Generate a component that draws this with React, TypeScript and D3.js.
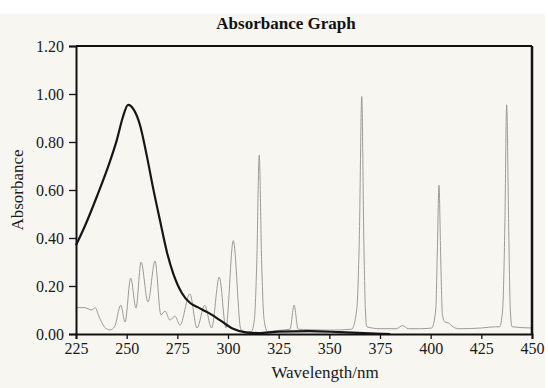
import React, { useEffect, useRef } from 'react';
import * as d3 from 'd3';

// thick black trace (wavelength nm / absorbance)
const blackWl = [225, 229.4, 235.4, 241.8, 245.2, 248, 250.7, 253.5, 256.6, 260, 263, 266.4, 269.9, 272.9, 277.3, 281.2, 285, 290, 296, 302.5, 309.4, 315, 325, 340, 355, 370, 380];
const blackAbs = [0.37, 0.45, 0.575, 0.72, 0.81, 0.9, 0.955, 0.935, 0.87, 0.74, 0.61, 0.475, 0.34, 0.254, 0.17, 0.13, 0.112, 0.09, 0.058, 0.022, 0.006, 0.004, 0.01, 0.012, 0.008, 0.003, 0];

// thin grey line spectrum
const greyWl = [225, 229, 232.9, 234.4, 236.5, 239, 241.8, 244, 247.1, 249.2, 252, 254.6, 257.1, 260.5, 264, 266.9, 268.9, 271.4, 273.8, 276.3, 281.2, 284.7, 288.5, 291.9, 295.7, 299, 302.6, 306.4, 309, 311.5, 313, 314.2, 315.4, 316.6, 317.8, 319.5, 325, 330.6, 332.6, 334.6, 340, 350, 361, 363.5, 364.8, 366, 367, 367.8, 368.5, 375, 383, 386.2, 389, 395, 400.5, 402.5, 403.3, 404.1, 405, 405.8, 407, 409, 411, 414, 425, 432, 434, 435.5, 436.6, 437.5, 438.5, 439.3, 440.2, 450];
const greyAbs = [0.11, 0.11, 0.1, 0.11, 0.07, 0.03, 0.017, 0.03, 0.12, 0.05, 0.233, 0.108, 0.3, 0.133, 0.304, 0.08, 0.095, 0.058, 0.075, 0.037, 0.167, 0.025, 0.12, 0.025, 0.237, 0.025, 0.389, 0.017, 0.01, 0.01, 0.06, 0.3, 0.745, 0.3, 0.06, 0.01, 0.015, 0.02, 0.12, 0.02, 0.018, 0.016, 0.02, 0.1, 0.4, 0.99, 0.4, 0.1, 0.03, 0.022, 0.022, 0.035, 0.022, 0.022, 0.025, 0.1, 0.35, 0.62, 0.3, 0.08, 0.05, 0.045, 0.03, 0.022, 0.025, 0.03, 0.03, 0.1, 0.45, 0.955, 0.45, 0.1, 0.03, 0.025];

const xTicks = [225, 250, 275, 300, 325, 350, 375, 400, 425, 450];
const yTicks = [0, 0.2, 0.4, 0.6, 0.8, 1.0, 1.2];

const App: React.FC = () => {
    const svgRef = useRef<SVGSVGElement | null>(null);

    useEffect(() => {
        const svg = d3.select(svgRef.current);
        const width = 548;
        const height = 388;
        const margin = { top: 46, right: 16, bottom: 54, left: 76 };
        const font = '"Liberation Serif", "Times New Roman", serif';

        svg.selectAll('*').remove();

        // scanned page background
        svg.append('rect').attr('width', width).attr('height', height).attr('fill', '#ffffff');
        svg.append('rect').attr('x', 0).attr('y', 14).attr('width', 545).attr('height', height - 14).attr('fill', '#f7f6f1');

        const x = d3.scaleLinear().domain([225, 450]).range([margin.left, width - margin.right]);
        const y = d3.scaleLinear().domain([0, 1.2]).range([height - margin.bottom, margin.top]);

        const grey = greyWl.map((w, i) => [w, greyAbs[i]] as [number, number]);
        const black = blackWl.map((w, i) => [w, blackAbs[i]] as [number, number]);
        const line = d3.line<[number, number]>()
            .x(d => x(d[0]))
            .y(d => y(d[1]))
            .curve(d3.curveMonotoneX);

        svg.append('path')
            .attr('d', line(grey))
            .attr('fill', 'none')
            .attr('stroke', '#9c9b97')
            .attr('stroke-width', 1);

        svg.append('path')
            .attr('d', line(black))
            .attr('fill', 'none')
            .attr('stroke', '#161616')
            .attr('stroke-width', 2.2);

        // axes
        const xAxis = svg.append('g')
            .attr('transform', `translate(0,${y(0)})`)
            .call(d3.axisBottom(x).tickValues(xTicks).tickFormat(d3.format('d')).tickSize(5).tickPadding(4));
        const yAxis = svg.append('g')
            .attr('transform', `translate(${margin.left},0)`)
            .call(d3.axisLeft(y).tickValues(yTicks).tickFormat(d3.format('.2f')).tickSize(7).tickPadding(5));

        [xAxis, yAxis].forEach(g => {
            g.select('.domain').attr('stroke', '#111').attr('stroke-width', 2);
            g.selectAll('.tick line').attr('stroke', '#111').attr('stroke-width', 1.3);
            g.selectAll('.tick text').attr('font-family', font).attr('font-size', 16).attr('fill', '#1a1a1a');
        });

        // top and right border
        svg.append('line')
            .attr('x1', margin.left).attr('x2', x(450))
            .attr('y1', y(1.2)).attr('y2', y(1.2))
            .attr('stroke', '#111').attr('stroke-width', 2);
        svg.append('line')
            .attr('x1', x(450)).attr('x2', x(450))
            .attr('y1', y(1.2)).attr('y2', y(0))
            .attr('stroke', '#111').attr('stroke-width', 2.5);

        // titles
        svg.append('text')
            .attr('x', 286).attr('y', 29)
            .attr('text-anchor', 'middle')
            .attr('font-family', font).attr('font-weight', 'bold').attr('font-size', 17)
            .attr('fill', '#111')
            .text('Absorbance Graph');

        svg.append('text')
            .attr('x', 325).attr('y', 378)
            .attr('text-anchor', 'middle')
            .attr('font-family', font).attr('font-size', 17)
            .attr('fill', '#1a1a1a')
            .text('Wavelength/nm');

        svg.append('text')
            .attr('transform', 'translate(23,190) rotate(-90)')
            .attr('text-anchor', 'middle')
            .attr('font-family', font).attr('font-size', 17)
            .attr('fill', '#1a1a1a')
            .text('Absorbance');
    }, []);

    return <svg ref={svgRef} width={548} height={388} style={{ position: 'absolute', left: 0, top: 0 }}></svg>;
};

export default App;
